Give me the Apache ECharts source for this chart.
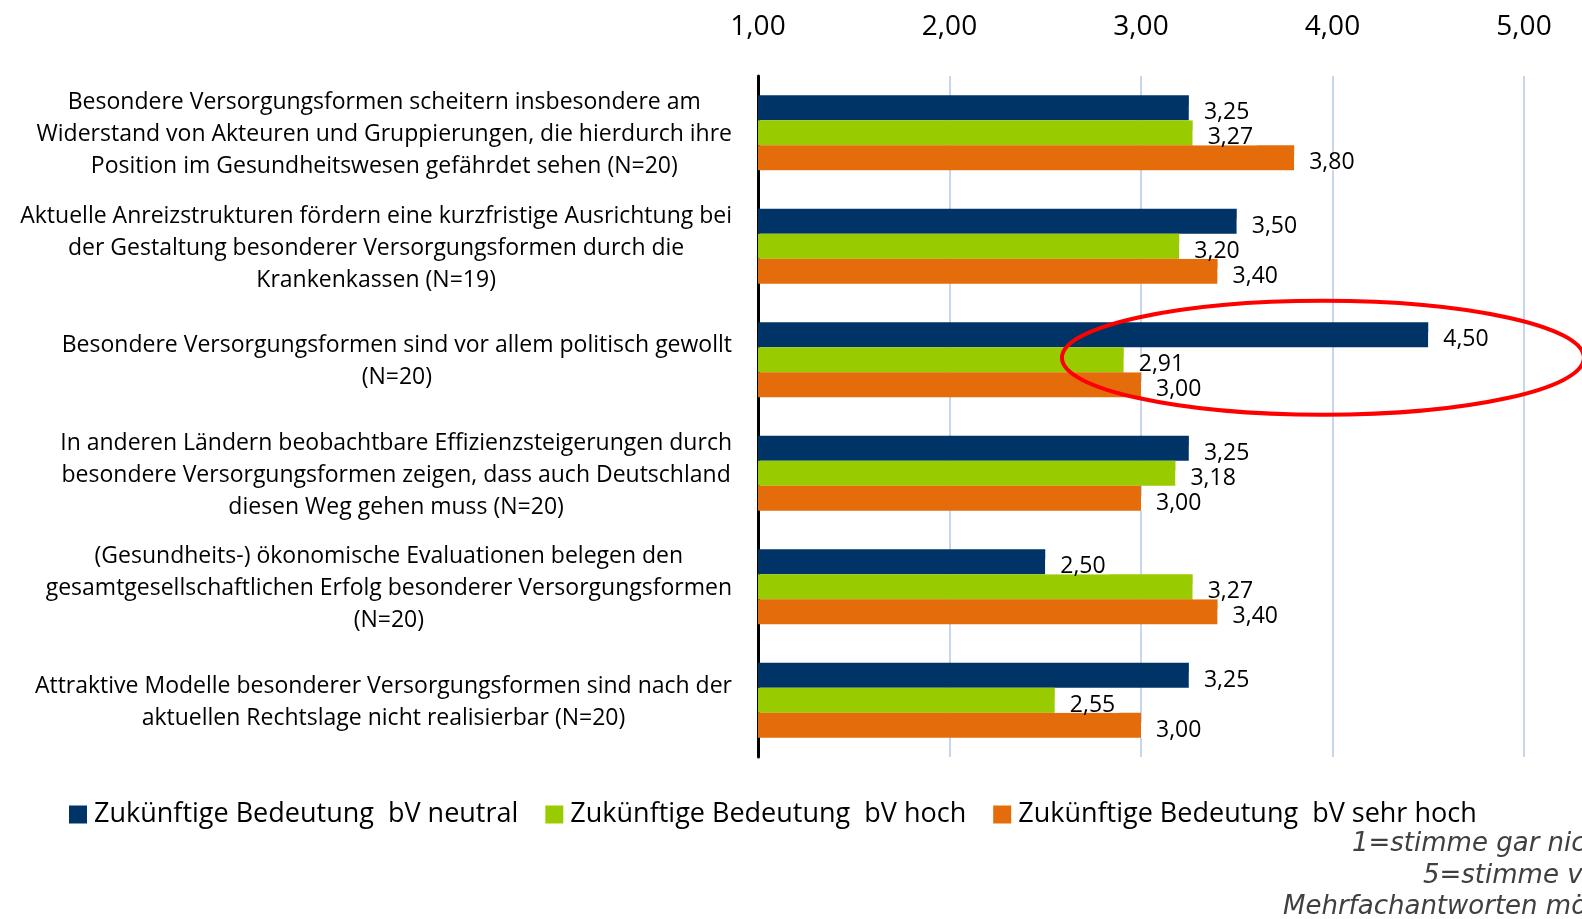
<!DOCTYPE html>
<html>
<head>
<meta charset="utf-8">
<script src="https://cdn.jsdelivr.net/npm/echarts@6/dist/echarts.min.js"></script>
<style>
  html, body { margin: 0; padding: 0; background: #fff; }
  #chart { width: 1582px; height: 919px; }
</style>
</head>
<body>
<div id="chart"></div>
<script>
// Kategorien (Aussagen)
const categories = [
  'Besondere Versorgungsformen scheitern insbesondere am\nWiderstand von Akteuren und Gruppierungen, die hierdurch ihre\nPosition im Gesundheitswesen gefährdet sehen (N=20)',
  'Aktuelle Anreizstrukturen fördern eine kurzfristige Ausrichtung bei\nder Gestaltung besonderer Versorgungsformen durch die\nKrankenkassen (N=19)',
  'Besondere Versorgungsformen sind vor allem politisch gewollt\n(N=20)',
  'In anderen Ländern beobachtbare Effizienzsteigerungen durch\nbesondere Versorgungsformen zeigen, dass auch Deutschland\ndiesen Weg gehen muss (N=20)',
  '(Gesundheits-) ökonomische Evaluationen belegen den\ngesamtgesellschaftlichen Erfolg besonderer Versorgungsformen\n(N=20)',
  'Attraktive Modelle besonderer Versorgungsformen sind nach der\naktuellen Rechtslage nicht realisierbar (N=20)'
];

const seriesNames = [
  'Zukünftige Bedeutung  bV neutral',
  'Zukünftige Bedeutung  bV hoch',
  'Zukünftige Bedeutung  bV sehr hoch'
];

// Mittelwerte je Gruppe
const neutral  = [3.25, 3.50, 4.50, 3.25, 2.50, 3.25];
const hoch     = [3.27, 3.20, 2.91, 3.18, 3.27, 2.55];
const sehrHoch = [3.80, 3.40, 3.00, 3.00, 3.40, 3.00];

const axisMin = 1;
const axisMax = 5;

const footnotes = ['1=stimme gar nicht zu', '5=stimme voll zu', 'Mehrfachantworten möglich'];

const colors = ['#003366', '#99cc00', '#e46c0a'];
const fontMain = '"Open Sans", sans-serif';
const fontNote = 'italic 26px "DejaVu Sans", Verdana, sans-serif';

const fmt = v => Number(v).toFixed(2).replace('.', ',');

function barSeries(name, data, color) {
  return {
    name: name,
    type: 'bar',
    data: data,
    barGap: 0,
    barCategoryGap: '34%',
    itemStyle: { color: color },
    label: {
      show: true,
      position: 'right',
      distance: 0,
      offset: [0, 5],
      formatter: p => fmt(p.value),
      fontFamily: fontMain,
      fontSize: 23,
      lineHeight: 15,
      color: '#000',
      backgroundColor: '#fff',
      padding: [0, 4, 0, 15]
    }
  };
}

const chart = echarts.init(document.getElementById('chart'));

const option = {
  animation: false,
  color: colors,
  grid: { left: 758, right: 58, top: 76, bottom: 162 },
  xAxis: {
    type: 'value',
    position: 'top',
    min: axisMin,
    max: axisMax,
    interval: 1,
    axisLine: { show: false },
    axisTick: { show: false },
    axisLabel: {
      formatter: v => fmt(v),
      fontFamily: fontMain,
      fontSize: 28,
      color: '#000',
      margin: 35
    },
    splitLine: { lineStyle: { color: '#b4c7e7', width: 1.5 } }
  },
  yAxis: {
    type: 'category',
    inverse: true,
    data: categories,
    axisLine: { lineStyle: { color: '#000', width: 3 } },
    axisTick: { length: 6, lineStyle: { color: '#000', width: 3 } },
    axisLabel: {
      margin: 26,
      align: 'right',
      padding: [4, 0, 0, 0],
      formatter: v => v.split('\n').map(s => '{c|' + s + '}').join('\n'),
      rich: {
        c: {
          align: 'center',
          fontFamily: fontMain,
          fontSize: 23,
          lineHeight: 32,
          color: '#000'
        }
      }
    }
  },
  legend: {
    left: 64,
    top: 796,
    itemWidth: 18,
    itemHeight: 18,
    itemGap: 27,
    icon: 'rect',
    textStyle: { fontFamily: fontMain, fontSize: 27, color: '#000', padding: [0, 0, 0, 2] },
    data: seriesNames
  },
  series: [
    barSeries(seriesNames[0], neutral, colors[0]),
    barSeries(seriesNames[1], hoch, colors[1]),
    barSeries(seriesNames[2], sehrHoch, colors[2])
  ]
};

chart.setOption(option);

// rote Ellipse um die Gruppe "politisch gewollt", Fußnoten unten rechts
const center = chart.convertToPixel({ gridIndex: 0 }, [3.95, 2]);
chart.setOption({
  graphic: [
    {
      id: 'ellipse', type: 'ellipse', z: 100,
      shape: { cx: center[0], cy: center[1] - 2, rx: 261, ry: 57 },
      style: { fill: 'none', stroke: '#ff0000', lineWidth: 4 }
    },
    { id: 'note1', type: 'text', left: 1352, top: 831, style: { text: footnotes[0], font: fontNote, fill: '#404040' } },
    { id: 'note2', type: 'text', left: 1423, top: 863, style: { text: footnotes[1], font: fontNote, fill: '#404040' } },
    { id: 'note3', type: 'text', left: 1283, top: 894, style: { text: footnotes[2], font: fontNote, fill: '#404040' } }
  ]
});
</script>
</body>
</html>
